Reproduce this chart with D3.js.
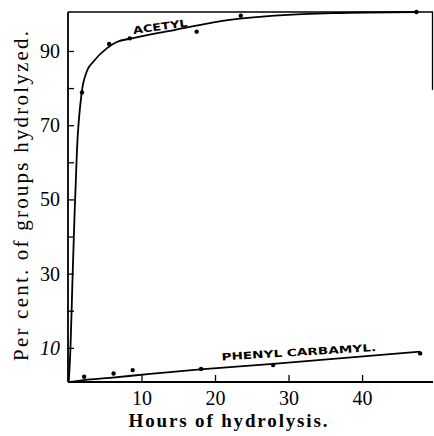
<!DOCTYPE html>
<html>
<head>
<meta charset="utf-8">
<script src="https://cdn.jsdelivr.net/npm/d3@7"></script>
<style>
  html, body { margin: 0; padding: 0; background: #fff; }
  svg { display: block; }
</style>
</head>
<body>
<div id="chart"></div>
<script>
// ---- data ----
const acetylHours   = [1.9, 5.6, 8.4, 17.5, 23.5, 47.4];
const acetylValues  = [78.8, 91.9, 93.4, 95.2, 99.5, 100.5];
const phenylHours   = [2.2, 6.2, 8.8, 18.1, 27.9, 47.9];
const phenylValues  = [2.2, 3.1, 4.0, 4.3, 5.4, 8.5];
// smooth curves drawn through the observations
const acetylCurveHours  = [0.1, 0.34, 0.61, 0.88, 1.22, 1.86, 2.54, 3.44, 5.27, 6.63, 8.67, 14.6, 22, 36, 47.5];
const acetylCurveValues = [0.8, 10.2, 28.3, 45.3, 63.3, 78.7, 84.4, 87.1, 90.7, 92.4, 93.4, 95.7, 98.4, 100.2, 100.5];
const phenylCurveHours  = [0.3, 2.2, 5.7, 11.2, 18, 27.9, 47.9];
const phenylCurveValues = [0.8, 1.3, 1.9, 3.0, 4.2, 5.7, 9.0];
const xTicks = [10, 20, 30, 40];
const yTicks = [10, 20, 30, 40, 50, 60, 70, 80, 90];
const yLabeled = [10, 30, 50, 70, 90];
const xTitle = "Hours of hydrolysis.";
const yTitle = "Per cent. of groups hydrolyzed.";
const acetylLabel = "ACETYL";
const phenylLabel = "PHENYL CARBAMYL.";

const W = 434, H = 436;
const svg = d3.select("#chart").append("svg").attr("width", W).attr("height", H);

const x = d3.scaleLinear().domain([0, 49.65]).range([68, 433]);
const y = d3.scaleLinear().domain([0.8, 100.5]).range([382, 12]);

const serif = '"Liberation Serif", "Times New Roman", serif';
const sans = '"DejaVu Sans", "Liberation Sans", sans-serif';

// frame
const frame = svg.append("g").attr("stroke", "#000").attr("fill", "none");
frame.append("line").attr("x1", x(0)).attr("x2", x(0)).attr("y1", y(100.5)).attr("y2", y(0.8)).attr("stroke-width", 1.8);
frame.append("line").attr("x1", x(0)).attr("x2", x(49.65)).attr("y1", y(0.8)).attr("y2", y(0.8)).attr("stroke-width", 1.8);
frame.append("line").attr("x1", x(0)).attr("x2", x(49.65)).attr("y1", y(100.5)).attr("y2", y(100.5)).attr("stroke-width", 1.3);
frame.append("line").attr("x1", x(49.65) - 0.5).attr("x2", x(49.65) - 0.5).attr("y1", y(100.5)).attr("y2", y(79.5)).attr("stroke-width", 1.3);

// x axis
const xAxis = d3.axisBottom(x).tickValues(xTicks).tickSizeInner(-7).tickSizeOuter(0).tickPadding(9).tickFormat(d3.format("d"));
const gx = svg.append("g").attr("transform", `translate(0,${y(0.8)})`).call(xAxis);
gx.select(".domain").remove();
gx.selectAll(".tick line").attr("stroke", "#000").attr("stroke-width", 1.3);
gx.selectAll(".tick text").style("font-family", serif).style("font-size", "20px").attr("fill", "#000");

// y axis
const yAxis = d3.axisLeft(y).tickValues(yTicks).tickSizeInner(-6).tickSizeOuter(0).tickPadding(8)
  .tickFormat(d => yLabeled.includes(d) ? String(d) : "");
const gy = svg.append("g").attr("transform", `translate(${x(0)},0)`).call(yAxis);
gy.select(".domain").remove();
gy.selectAll(".tick line").attr("stroke", "#000").attr("stroke-width", 1.3).attr("x1", -1);
gy.selectAll(".tick text").style("font-family", serif).style("font-size", "20px").attr("fill", "#000")
  .style("font-style", d => d === 10 ? "italic" : "normal");

// titles
svg.append("text").attr("x", 228).attr("y", 427).attr("text-anchor", "middle")
  .style("font-family", serif).style("font-size", "19px").style("font-weight", "bold")
  .attr("textLength", 199).attr("lengthAdjust", "spacing").text(xTitle);
svg.append("text").attr("transform", "translate(28,196) rotate(-90)").attr("text-anchor", "middle")
  .style("font-family", serif).style("font-size", "21px")
  .attr("textLength", 330).attr("lengthAdjust", "spacing").text(yTitle);

// curves
const line = d3.line().x(d => x(d[0])).y(d => y(d[1])).curve(d3.curveMonotoneX);
svg.append("path").datum(d3.zip(acetylCurveHours, acetylCurveValues))
  .attr("d", line).attr("fill", "none").attr("stroke", "#000").attr("stroke-width", 1.8);
svg.append("path").datum(d3.zip(phenylCurveHours, phenylCurveValues))
  .attr("d", line).attr("fill", "none").attr("stroke", "#000").attr("stroke-width", 1.8);

// points
svg.append("g").selectAll("circle").data(d3.zip(acetylHours, acetylValues)).join("circle")
  .attr("cx", d => x(d[0])).attr("cy", d => y(d[1])).attr("r", 2.2).attr("fill", "#000");
svg.append("g").selectAll("circle").data(d3.zip(phenylHours, phenylValues)).join("circle")
  .attr("cx", d => x(d[0])).attr("cy", d => y(d[1])).attr("r", 2.2).attr("fill", "#000");

// curve labels
svg.append("text").attr("transform", `translate(${x(8.9)},${y(94.6)}) rotate(-8)`)
  .style("font-family", sans).style("font-size", "10px").style("font-weight", "bold")
  .attr("textLength", 55).attr("lengthAdjust", "spacingAndGlyphs").text(acetylLabel);
svg.append("text").attr("transform", `translate(${x(20.9)},${y(6.6)}) rotate(-3.5)`)
  .style("font-family", sans).style("font-size", "10px").style("font-weight", "bold")
  .attr("textLength", 155).attr("lengthAdjust", "spacingAndGlyphs").text(phenylLabel);
</script>
</body>
</html>
